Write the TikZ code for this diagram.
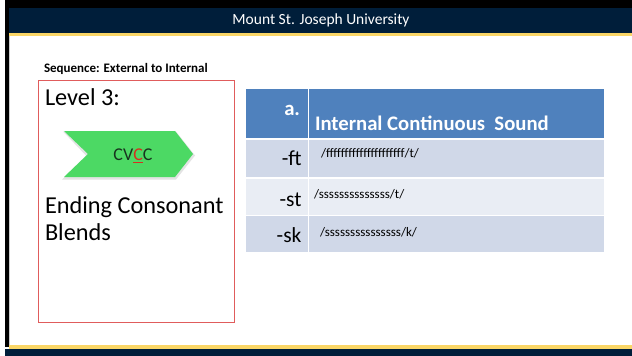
\documentclass[tikz,border=0pt]{standalone}
\usepackage{fontspec}
\setmainfont{Carlito}
\definecolor{navy}{RGB}{0,30,58}
\definecolor{gold}{RGB}{250,214,102}
\definecolor{boxred}{RGB}{224,92,92}
\definecolor{hdrblue}{RGB}{79,129,189}
\definecolor{rowA}{RGB}{208,216,232}
\definecolor{rowB}{RGB}{233,237,244}
\definecolor{chev}{RGB}{76,217,100}
\definecolor{cvdark}{RGB}{24,52,30}
\definecolor{cvred}{RGB}{214,48,32}
\tikzset{
  txt/.style={inner sep=0pt, outer sep=0pt},
  cell/.style={anchor=north west, inner sep=0pt, outer sep=0pt, draw=none},
  hdrtxt/.style={txt, text=white, font=\bfseries\fontsize{20.7}{24}\selectfont},
  rowlbl/.style={txt, anchor=base east, font=\fontsize{21.5}{25}\selectfont},
  sound/.style={txt, anchor=base west, font=\fontsize{13}{15}\selectfont},
  bigtxt/.style={txt, anchor=base west, font=\fontsize{24.3}{28}\selectfont}
}
\begin{document}
\begin{tikzpicture}[x=1pt,y=-1pt]
\useasboundingbox (0,0) rectangle (632,356);
\fill[white] (0,0) rectangle (632,356);
% slide frame
\fill[black] (5,0) rectangle (632,8);
\fill[navy] (5,8) rectangle (632,33);
\fill[gold] (9,33) rectangle (632,35.5);
\fill[black] (5,0) rectangle (9,347);
\fill[gray!40] (9,35.5) rectangle (10,345);
\fill[gold] (9,345) rectangle (632,348.5);
\fill[navy] (5,348.5) rectangle (632,356);
\node[txt, text=white, font=\fontsize{15.5}{18}\selectfont] (title) at (321,20.5) {Mount St. Joseph University};

% left panel
\node[txt, anchor=base west, font=\bfseries\fontsize{13}{15}\selectfont] (seq) at (44,72.5) {Sequence: External to Internal};
\node[cell, draw=boxred, line width=0.9pt, minimum width=196pt, minimum height=242pt] (levelbox) at (38,80) {};
\node[bigtxt] (level) at (45,105) {Level 3:};
\node[bigtxt] (ending) at (45,213) {Ending Consonant};
\node[bigtxt] (blends) at (45,240) {Blends};

% chevron
\fill[gray!22] (63,131.5) -- (176,131.5) -- (195,155.5) -- (176,179.5) -- (62,179.5) -- (86,155.5) -- cycle;
\fill[chev] (64,131) -- (175,131) -- (193,154) -- (175,177) -- (64,177) -- (88,154) -- cycle;
\node[txt, text=cvdark, font=\fontsize{18}{21}\selectfont] (cvcc) at (133,155.5) {CV\textcolor{cvred}{\underline{C}}C};

% table
\node[cell, fill=hdrblue, minimum width=61.5pt, minimum height=49pt] (h1) at (246,89) {};
\node[cell, fill=hdrblue, minimum width=295pt, minimum height=49pt] (h2) at (309,89) {};
\node[cell, fill=rowA, minimum width=61.5pt, minimum height=37pt] (a1) at (246,140) {};
\node[cell, fill=rowA, minimum width=295pt, minimum height=37pt] (a2) at (309,140) {};
\node[cell, fill=rowB, minimum width=61.5pt, minimum height=36pt] (b1) at (246,178.5) {};
\node[cell, fill=rowB, minimum width=295pt, minimum height=36pt] (b2) at (309,178.5) {};
\node[cell, fill=rowA, minimum width=61.5pt, minimum height=36pt] (c1) at (246,216) {};
\node[cell, fill=rowA, minimum width=295pt, minimum height=36pt] (c2) at (309,216) {};

\node[hdrtxt, anchor=base east] (ha) at (300,115) {a.};
\node[hdrtxt, anchor=base west] (hb) at (315,130) {Internal Continuous\ \ Sound};

\node[rowlbl] (ft) at (301.5,165) {-ft};
\node[rowlbl] (st) at (301.5,206) {-st};
\node[rowlbl] (sk) at (301.5,242) {-sk};

\node[sound] (fsound) at (321,157.5) {/fffffffffffffffffffff/t/};
\node[sound] (ssound) at (314,198) {/ssssssssssssss/t/};
\node[sound] (sksound) at (320,236) {/sssssssssssssss/k/};
\end{tikzpicture}
\end{document}
